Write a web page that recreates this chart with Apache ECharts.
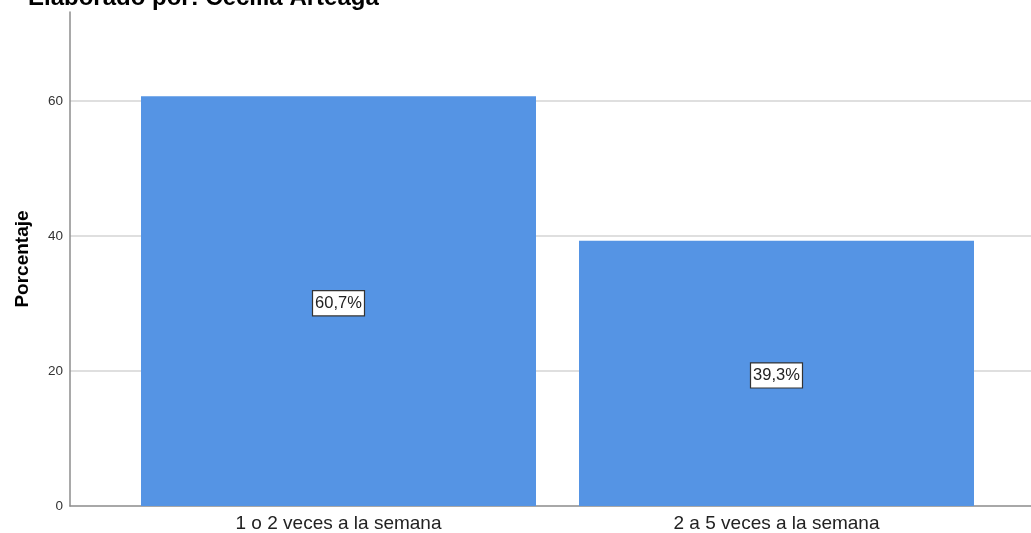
<!DOCTYPE html>
<html>
<head>
<meta charset="utf-8">
<script src="https://cdn.jsdelivr.net/npm/echarts@6/dist/echarts.min.js"></script>
<style>
html,body{margin:0;padding:0;background:#fff;}
#c{width:1031px;height:533px;}
</style>
</head>
<body>
<div id="c"></div>
<script>
const categories = ['1 o 2 veces a la semana', '2 a 5 veces a la semana'];
const values = [60.7, 39.3];
const labels = ['60,7%', '39,3%'];
const yTicks = [0, 20, 40, 60];
const titleText = 'Elaborado por: Cecilia Arteaga';
const yName = 'Porcentaje';

const FONT = '"Liberation Sans", Arial, sans-serif';
const YMAX = 73.2;

const chart = echarts.init(document.getElementById('c'));
chart.setOption({
  animation: false,
  textStyle: { fontFamily: FONT },
  title: {
    text: titleText,
    left: 23, top: -19,
    textStyle: { fontFamily: FONT, fontWeight: 'bold', fontSize: 24, color: '#000' }
  },
  grid: [
    { left: 70, right: 0, top: 12, bottom: 27, outerBoundsMode: 'none', containLabel: false },
    { left: 119.5, right: 35.5, top: 12, bottom: 27, outerBoundsMode: 'none', containLabel: false }
  ],
  xAxis: [
    { type: 'value', gridIndex: 0, min: 0, max: 1,
      axisLine: { show: true, onZero: false, lineStyle: { color: '#8c8c8c', width: 1.5 } },
      axisTick: { show: false }, axisLabel: { show: false }, splitLine: { show: false } },
    { type: 'category', gridIndex: 1, data: categories,
      axisLine: { show: false }, axisTick: { show: false },
      axisLabel: { fontSize: 19, color: '#222', margin: 8, fontFamily: FONT } }
  ],
  yAxis: [
    { type: 'value', gridIndex: 0, min: 0, max: YMAX, interval: 20,
      name: yName, nameLocation: 'middle', nameGap: 38,
      nameTextStyle: { fontFamily: FONT, fontWeight: 'bold', fontSize: 19, color: '#000' },
      axisLine: { show: true, lineStyle: { color: '#8c8c8c', width: 1.5 } },
      axisTick: { show: false },
      axisLabel: { fontSize: 13.5, color: '#333', margin: 7, showMaxLabel: false,
        formatter: v => (yTicks.indexOf(v) >= 0 ? String(v) : '') },
      splitLine: { show: true, showMaxLine: false, showMinLine: false, lineStyle: { color: '#d4d4d4', width: 1.5 } } },
    { type: 'value', gridIndex: 1, min: 0, max: YMAX, interval: 20, show: false,
      splitLine: { show: false } }
  ],
  series: [{
    type: 'bar',
    xAxisIndex: 1, yAxisIndex: 1,
    data: values,
    barWidth: 395,
    itemStyle: { color: '#5594E4' },
    label: {
      show: true, position: 'inside', offset: [0, 2],
      formatter: p => labels[p.dataIndex],
      fontSize: 16.5, color: '#222', fontFamily: FONT,
      backgroundColor: '#fff', borderColor: '#333', borderWidth: 1.2,
      padding: [4, 2, 3, 2]
    }
  }]
});
</script>
</body>
</html>
